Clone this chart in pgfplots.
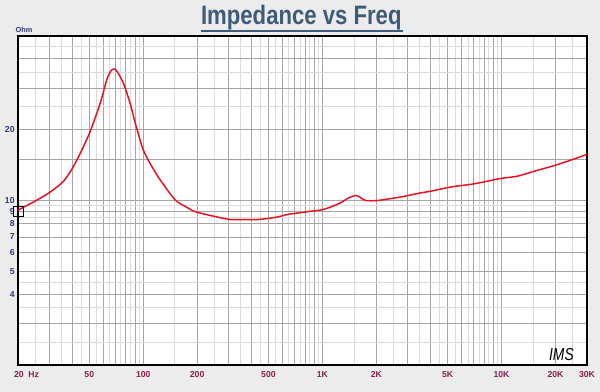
\documentclass[border=0pt]{standalone}
\usepackage{pgfplots}
\pgfplotsset{compat=1.18}
\usepackage{fontspec}
\setmainfont{Liberation Sans}
\usepackage{graphicx}
\definecolor{bgc}{RGB}{236,236,236}
\definecolor{titlec}{RGB}{62,92,120}
\definecolor{ylabc}{RGB}{46,59,122}
\definecolor{xlabc}{RGB}{139,32,80}
\definecolor{curvec}{RGB}{232,16,30}
\definecolor{gmaj}{RGB}{165,165,165}
\definecolor{gmin}{RGB}{218,218,218}
\begin{document}
\begin{tikzpicture}
\fill[bgc] (0,0) rectangle (450pt,294pt);
\useasboundingbox (0,0) rectangle (450pt,294pt);
\node[text=titlec, font=\fontsize{20}{22}\selectfont\bfseries] at (226pt,280.5pt) {\scalebox{0.83}[1]{Impedance vs Freq}};
\draw[titlec, line width=1.5pt] (151pt,271pt) -- (302pt,271pt);
\node[text=ylabc, font=\fontsize{5.5}{6}\selectfont\bfseries] at (18pt,271.5pt) {Ohm};
\begin{axis}[
  at={(13.5pt,20.25pt)}, anchor=south west,
  scale only axis, width=426.75pt, height=246.75pt,
  xmode=log, ymode=log,
  xmin=20, xmax=30000, ymin=2, ymax=50,
  axis background/.style={fill=white},
  axis line style={black, line width=1.2pt},
  tick style={draw=none},
  xtick={20,30,40,50,60,70,80,90,100,200,300,400,500,600,700,800,900,1000,2000,3000,4000,5000,6000,7000,8000,9000,10000,20000,30000},
  xticklabels={\makebox[0pt][l]{\hspace{-3pt}20\ \ Hz},,,50,,,,,100,200,,,500,,,,,1K,2K,,,5K,,,,,10K,20K,30K},
  minor xtick={25,35,45,55,65,75,85,95,150,250,350,450,550,650,750,850,950,1500,2500,3500,4500,5500,6500,7500,8500,9500,15000,25000},
  ytick={3,4,5,6,7,8,9,10,15,20,30,40},
  yticklabels={,4,5,6,7,8,9,10,,20,,},
  minor ytick={2.5,3.5,4.5,8.5,9.5,25,35,45},
  grid=both,
  major grid style={gmaj, line width=0.6pt},
  minor grid style={gmin, line width=0.6pt},
  xticklabel style={text=xlabc, font=\fontsize{6.5}{7}\selectfont\bfseries, yshift=-1pt},
  yticklabel style={text=ylabc, font=\fontsize{6.5}{7}\selectfont\bfseries, xshift=1pt},
  clip=false,
]
\addplot[curvec, line width=1.1pt, smooth, tension=0.45] coordinates {
(20,9.1) (24.4,9.85) (30.2,10.85) (35.8,12.05) (40,13.6) (44.4,15.8) (50.5,19.6) (57.5,25.9) (62.6,32.6) (66,35.5) (68.4,36.2) (71,35.6) (77.5,31.5) (84.4,25.9) (90,21.5) (96,18.1) (100,16.4) (109,14.4) (124,12.27) (150,10.1) (175,9.35) (199,8.92) (269,8.45) (305,8.3) (432,8.3) (558,8.5) (636,8.72) (751,8.87) (857,9.0) (974,9.1) (1100,9.35) (1264,9.78) (1407,10.27) (1539,10.5) (1640,10.27) (1746,10.0) (2030,10.0) (2738,10.35) (3555,10.78) (4034,10.95) (5164,11.4) (7012,11.77) (9880,12.4) (12230,12.68) (15150,13.3) (19650,14.07) (23300,14.67) (30000,15.7)
};
\addplot[only marks, mark=square, mark size=3.8pt, black, line width=0.5pt] coordinates {(20,8.98)};
\node[font=\fontsize{13}{14}\selectfont\itshape, anchor=south east] at (rel axis cs:0.985,0.0) {\scalebox{0.8}[1]{IMS}};
\end{axis}
\end{tikzpicture}
\end{document}
